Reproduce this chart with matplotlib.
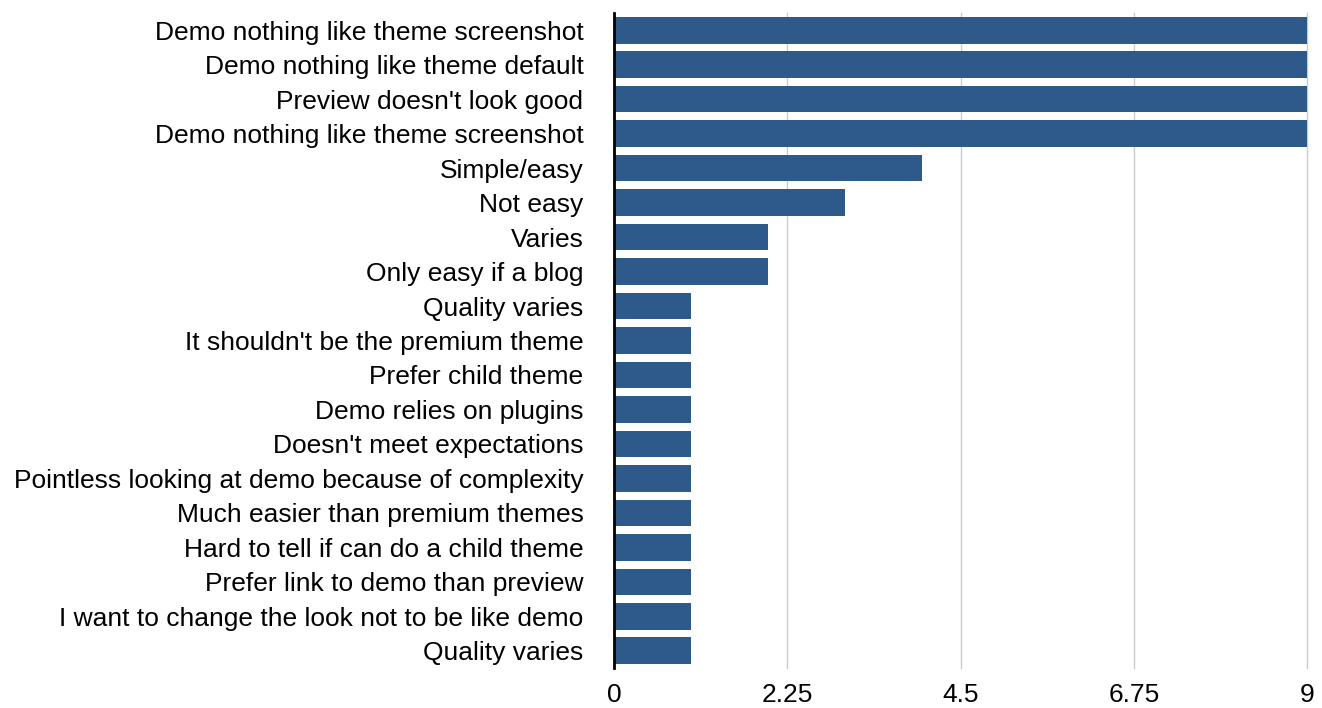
import matplotlib
matplotlib.use("Agg")
import matplotlib.pyplot as plt

plt.rcParams["font.family"] = ["Liberation Sans", "DejaVu Sans"]

# Survey answers, top to bottom
categories = [
    "Demo nothing like theme screenshot",
    "Demo nothing like theme default",
    "Preview doesn't look good",
    "Demo nothing like theme screenshot",
    "Simple/easy",
    "Not easy",
    "Varies",
    "Only easy if a blog",
    "Quality varies",
    "It shouldn't be the premium theme",
    "Prefer child theme",
    "Demo relies on plugins",
    "Doesn't meet expectations",
    "Pointless looking at demo because of complexity",
    "Much easier than premium themes",
    "Hard to tell if can do a child theme",
    "Prefer link to demo than preview",
    "I want to change the look not to be like demo",
    "Quality varies",
]
counts = [9, 9, 9, 9, 4, 3, 2, 2, 1, 1, 1, 1, 1, 1, 1, 1, 1, 1, 1]
x_ticks = [0, 2.25, 4.5, 6.75, 9]
x_tick_labels = ["0", "2.25", "4.5", "6.75", "9"]

fig = plt.figure(figsize=(13.22, 7.08), dpi=100)
ax = fig.add_axes([0.4644, 0.0565, 0.5244, 0.9251])

positions = list(range(len(categories)))
ax.barh(positions, counts, height=0.77, color="#2e5a8b", zorder=3)

ax.set_ylim(len(categories) - 0.5, -0.5)
ax.set_xlim(0, 9)
ax.set_yticks(positions)
ax.set_yticklabels(categories, fontsize=19)
ax.set_xticks(x_ticks)
ax.set_xticklabels(x_tick_labels, fontsize=19)

ax.grid(axis="x", color="#cccccc", linewidth=1, zorder=0)
for line in ax.get_xgridlines():
    line.set_clip_on(False)
for side in ["top", "right", "bottom"]:
    ax.spines[side].set_visible(False)
ax.spines["left"].set_linewidth(2)
ax.spines["left"].set_zorder(4)
ax.tick_params(axis="y", length=0, pad=22)
ax.tick_params(axis="x", length=0, pad=11)

fig.savefig("out.png", dpi=100)
